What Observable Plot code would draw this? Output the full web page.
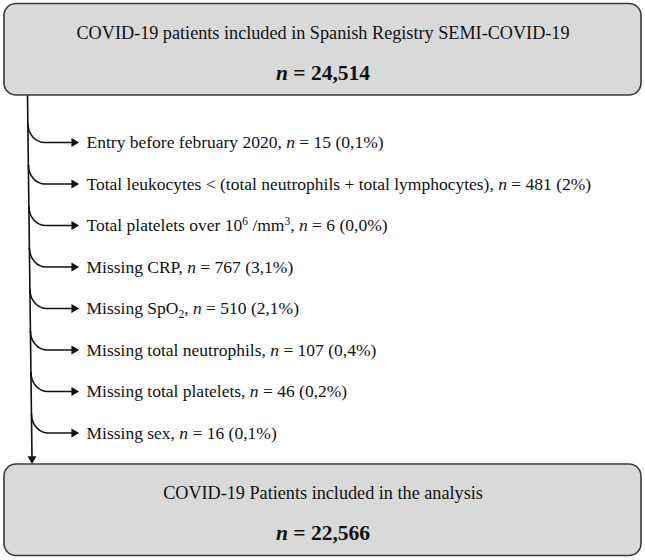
<!DOCTYPE html>
<html>
<head>
<meta charset="utf-8">
<script src="https://cdn.jsdelivr.net/npm/d3@7"></script>
<script src="https://cdn.jsdelivr.net/npm/@observablehq/plot@0.6"></script>
<style>
  html, body { margin: 0; padding: 0; background: #ffffff; }
  #chart svg { display: block; }
</style>
</head>
<body>
<div id="chart"></div>
<script>
const boxTitles = [
  "COVID-19 patients included in Spanish Registry SEMI-COVID-19",
  "COVID-19 Patients included in the analysis"
];
const boxCounts = [24514, 22566];

const exclusionLabels = [
  "Entry before february 2020",
  "Total leukocytes < (total neutrophils + total lymphocytes)",
  "Total platelets over 10⁶ /mm³",
  "Missing CRP",
  "Missing SpO₂",
  "Missing total neutrophils",
  "Missing total platelets",
  "Missing sex"
];
const exclusionCounts = [15, 481, 6, 767, 510, 107, 46, 16];
const exclusionPercents = ["0,1%", "2%", "0,0%", "3,1%", "2,1%", "0,4%", "0,2%", "0,1%"];

// ---- Layout (in the 645x560 page space) ----
const W = 645, H = 560;
const boxLeft = 4, boxRight = 641;
const boxTops = [3.5, 464];
const boxHeight = 91.5;
const firstRowY = 142, rowStep = 41.5;
const trunkTopY = boxTops[0] + boxHeight, trunkBottomY = 458;
const trunkX0 = 27, trunkX1 = 31.5;
const trunkX = y => trunkX0 + (y - trunkTopY) / (trunkBottomY - trunkTopY) * (trunkX1 - trunkX0);
const arrowTipX = 78, textX = 86;
const bendDrop = 19, bendRun = 17;

const fmt = d3.format(",");

const boxes = boxTitles.map((title, i) => ({
  title,
  label: `n = ${fmt(boxCounts[i])}`,
  y1: boxTops[i],
  y2: boxTops[i] + boxHeight
}));

const rows = exclusionLabels.map((label, i) => ({
  i,
  y: firstRowY + i * rowStep,
  text: `${label}, n = ${exclusionCounts[i]} (${exclusionPercents[i]})`
}));

// branch paths: start on trunk, quarter-ellipse bend, then horizontal shaft
const branchPts = rows.flatMap(r => {
  const y0 = r.y - bendDrop;
  const x0 = trunkX(y0);
  return [
    {i: r.i, x: x0, y: y0},
    {i: r.i, x: x0 + bendRun, y: r.y},
    {i: r.i, x: arrowTipX - 5, y: r.y}
  ];
});

// custom curve: first segment is a quarter-ellipse elbow (vertical -> horizontal), rest straight
function elbowCurve(context) {
  let pts = [];
  return {
    lineStart() { pts = []; },
    point(x, y) { pts.push([+x, +y]); },
    lineEnd() {
      if (!pts.length) return;
      const k = 0.5523;
      context.moveTo(pts[0][0], pts[0][1]);
      if (pts.length > 1) {
        const [ax, ay] = pts[0], [bx, by] = pts[1];
        context.bezierCurveTo(ax, ay + k * (by - ay), bx - k * (bx - ax), by, bx, by);
      }
      for (let j = 2; j < pts.length; ++j) context.lineTo(pts[j][0], pts[j][1]);
    },
    areaStart() {}, areaEnd() {}
  };
}

const ink = "#111111";

const plot = Plot.plot({
  width: W,
  height: H,
  margin: 0,
  x: {domain: [0, W], range: [0, W], axis: null},
  y: {domain: [0, H], range: [0, H], axis: null},
  style: {fontFamily: "'Liberation Serif', 'Times New Roman', serif", background: "#ffffff", color: ink},
  marks: [
    // boxes
    Plot.rect(boxes, {
      x1: () => boxLeft, x2: () => boxRight, y1: "y1", y2: "y2",
      rx: 12, fill: "#d9d9d9", stroke: "#3a3a3a", strokeWidth: 1.6
    }),
    // trunk line
    Plot.link([{}], {
      x1: () => trunkX0, y1: () => trunkTopY, x2: () => trunkX1, y2: () => trunkBottomY,
      stroke: ink, strokeWidth: 1.6
    }),
    // bottom arrowhead
    Plot.dot([{}], {
      x: () => trunkX1, y: () => trunkBottomY + 0.3, symbol: "triangle", r: 3.3,
      rotate: 180, fill: ink, stroke: "none"
    }),
    // branch elbows
    Plot.line(branchPts, {
      x: "x", y: "y", z: "i", curve: elbowCurve, stroke: ink, strokeWidth: 1.6
    }),
    // branch arrowheads
    Plot.dot(rows, {
      x: () => arrowTipX - 4.5, y: "y", symbol: "triangle", r: 3.3,
      rotate: 90, fill: ink, stroke: "none"
    }),
    // exclusion texts
    Plot.text(rows, {
      x: () => textX, y: "y", text: "text", textAnchor: "start",
      fontSize: 17.5, fill: ink
    }),
    // box titles
    Plot.text(boxes, {
      x: () => W / 2, y: d => d.y1 + 29, text: "title",
      fontSize: 18.2, fill: ink
    }),
    // box counts
    Plot.text(boxes, {
      x: () => W / 2, y: d => d.y1 + 69, text: "label",
      fontSize: 21.5, fontWeight: "bold", fill: ink
    })
  ]
});

// ---- rich text: italic n, superscripts and subscripts ----
const supMap = {"⁰":"0","¹":"1","²":"2","³":"3","⁴":"4","⁵":"5","⁶":"6","⁷":"7","⁸":"8","⁹":"9"};
const subMap = {"₀":"0","₁":"1","₂":"2","₃":"3","₄":"4","₅":"5","₆":"6","₇":"7","₈":"8","₉":"9"};
const NS = "http://www.w3.org/2000/svg";
plot.querySelectorAll("text").forEach(t => {
  const holder = t.querySelector("tspan") || t;
  const s = holder.textContent;
  if (!/(\bn(?= = )|[⁰¹²³⁴⁵⁶⁷⁸⁹₀₁₂₃₄₅₆₇₈₉])/.test(s)) return;
  const parts = s.split(/(\bn(?= = )|[⁰¹²³⁴⁵⁶⁷⁸⁹]+|[₀₁₂₃₄₅₆₇₈₉]+)/).filter(p => p !== "");
  holder.textContent = "";
  let shift = 0;
  for (const p of parts) {
    const ts = document.createElementNS(NS, "tspan");
    if (p === "n") {
      ts.textContent = "n";
      ts.setAttribute("font-style", "italic");
      if (shift) { ts.setAttribute("dy", -shift); shift = 0; }
    } else if (/^[⁰¹²³⁴⁵⁶⁷⁸⁹]+$/.test(p)) {
      ts.textContent = [...p].map(c => supMap[c]).join("");
      ts.setAttribute("font-size", "11.5");
      ts.setAttribute("dy", -6 - shift); shift = -6;
    } else if (/^[₀₁₂₃₄₅₆₇₈₉]+$/.test(p)) {
      ts.textContent = [...p].map(c => subMap[c]).join("");
      ts.setAttribute("font-size", "11.5");
      ts.setAttribute("dy", 4 - shift); shift = 4;
    } else {
      ts.textContent = p;
      if (shift) { ts.setAttribute("dy", -shift); shift = 0; }
    }
    holder.appendChild(ts);
  }
});

document.getElementById("chart").appendChild(plot);
</script>
</body>
</html>
